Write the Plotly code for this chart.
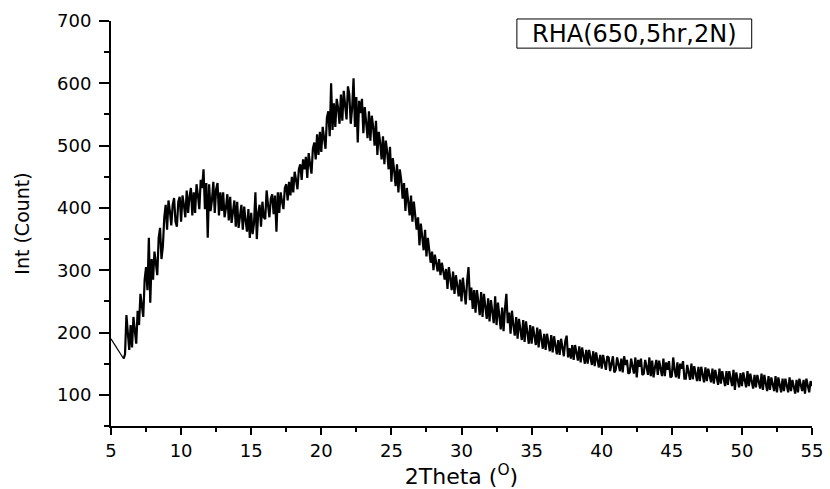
import plotly.graph_objects as go

# ---- data ----
head_theta = [5.0, 5.3, 5.6]
head_counts = [190, 180, 170]

scan_start = 5.9
scan_step = 0.1

counts_low = [
    158,
    165, 228, 190, 172, 212, 176, 225, 205, 182, 235,   # 6.0-6.9
    212, 262, 245, 225, 285, 305, 268, 352, 248, 318,   # 7
    285, 330, 312, 292, 352, 368, 318, 338, 385, 405,   # 8
    365, 412, 395, 372, 405, 416, 378, 370, 410, 418,   # 9
    378, 420, 405, 385, 428, 392, 418, 432, 388, 425,   # 10
    392, 438, 420, 398, 445, 432, 462, 398, 440, 352,   # 11
    438, 395, 412, 442, 392, 430, 440, 388, 425, 395,   # 12
    425, 385, 400, 422, 380, 418, 376, 395, 412, 370,   # 13
    410, 368, 388, 405, 365, 402, 380, 362, 398, 352,   # 14
    392, 358, 375, 425, 350, 392, 405, 370, 410, 385,   # 15
    382, 428, 405, 385, 415, 422, 390, 420, 362, 425,   # 16
    392, 425, 410, 398, 432, 438, 412, 442, 420, 450,   # 17
]
counts_peak = [
    425, 458, 445, 430, 462, 470, 445, 478, 462, 482,   # 18
    448, 488, 470, 455, 495, 505, 478, 518, 485, 522,   # 19
    490, 530, 512, 495, 545, 555, 515, 600, 525, 568,   # 20
    530, 575, 560, 535, 582, 540, 588, 565, 542, 595,   # 21
    582, 535, 560, 608, 530, 578, 505, 572, 552, 575,   # 22
    520, 562, 540, 512, 555, 508, 548, 530, 500, 540,   # 23
    485, 522, 505, 478, 515, 470, 508, 490, 462, 498,   # 24
    442, 480, 460, 435, 470, 425, 462, 445, 415, 440,   # 25
    395, 432, 410, 388, 420, 378, 410, 390, 365, 385,   # 26
    340, 375, 355, 332, 365, 322, 352, 335, 312, 330,   # 27
]
counts_decay = [
    300, 325, 312, 298, 318, 292, 312, 300, 285, 302,   # 28
    270, 305, 288, 268, 298, 262, 292, 275, 258, 285,   # 29
    250, 288, 268, 245, 282, 305, 252, 272, 238, 268,   # 30
    232, 268, 250, 228, 265, 225, 262, 245, 222, 255,   # 31
    218, 252, 235, 215, 258, 212, 248, 230, 205, 240,   # 32
    202, 238, 262, 215, 232, 198, 235, 212, 195, 225,   # 33
    190, 222, 205, 188, 220, 185, 218, 200, 182, 212,   # 34
    182, 210, 195, 180, 208, 176, 205, 190, 174, 198,   # 35
    172, 198, 185, 170, 196, 168, 194, 180, 165, 188,   # 36
    164, 190, 176, 162, 186, 195, 160, 175, 158, 180,   # 37
    156, 180, 168, 155, 178, 152, 176, 165, 150, 172,   # 38
    150, 172, 160, 148, 170, 146, 168, 155, 144, 164,   # 39
]
counts_tail = [
    142, 164, 152, 140, 162, 160, 138, 150, 162, 136,   # 40
    140, 160, 150, 138, 158, 136, 162, 148, 156, 134,   # 41
    136, 158, 146, 134, 160, 128, 156, 145, 158, 132,   # 42
    134, 156, 145, 132, 160, 130, 155, 128, 144, 156,   # 43
    132, 155, 142, 130, 158, 130, 152, 140, 154, 128,   # 44
    130, 160, 140, 128, 152, 126, 150, 142, 154, 126,   # 45
    126, 148, 136, 124, 150, 125, 146, 135, 122, 145,   # 46
    122, 145, 132, 120, 144, 122, 142, 130, 120, 142,   # 47
    118, 140, 128, 116, 142, 118, 138, 126, 114, 138,   # 48
    116, 138, 126, 114, 140, 108, 136, 124, 112, 135,   # 49
    114, 136, 124, 112, 138, 114, 134, 122, 110, 132,   # 50
    112, 132, 120, 110, 134, 108, 132, 118, 106, 130,   # 51
    108, 128, 118, 106, 130, 104, 128, 116, 104, 126,   # 52
    106, 126, 115, 104, 128, 106, 124, 113, 102, 124,   # 53
    104, 126, 114, 106, 124, 102, 126, 112, 104, 122,   # 54
    114,                                                 # 55
]

x_ticks = [5, 10, 15, 20, 25, 30, 35, 40, 45, 50, 55]
y_ticks = [100, 200, 300, 400, 500, 600, 700]
legend_label = "RHA(650,5hr,2N)"

scan_counts = counts_low + counts_peak + counts_decay + counts_tail
scan_theta = [round(scan_start + scan_step * i, 2) for i in range(len(scan_counts))]
theta = head_theta + scan_theta
counts = head_counts + scan_counts

FONT = "DejaVu Sans"

fig = go.Figure()
# thin leading segment (5.0-5.9) and dense scan trace
fig.add_trace(go.Scatter(x=theta[:4], y=counts[:4], mode="lines",
                         line=dict(color="black", width=1.2), showlegend=False))
fig.add_trace(go.Scatter(x=theta[3:], y=counts[3:], mode="lines",
                         line=dict(color="black", width=2.2), showlegend=False))

fig.update_layout(
    width=830, height=489,
    margin=dict(l=111, r=18, t=21, b=63),
    paper_bgcolor="white", plot_bgcolor="white",
    font=dict(family=FONT, color="black"),
    showlegend=False,
)
fig.update_xaxes(
    range=[5, 55], tickvals=x_ticks, ticktext=[str(v) for v in x_ticks],
    ticks="outside", ticklen=7, tickwidth=2, tickcolor="black",
    minor=dict(dtick=2.5, tick0=5, ticks="outside", ticklen=4, tickwidth=2, tickcolor="black", showgrid=False),
    showline=True, linewidth=2, linecolor="black", mirror=False,
    showgrid=False, zeroline=False, automargin=False,
    tickfont=dict(family=FONT, size=18, color="black"),
    title=dict(text="2Theta (<sup>O</sup>)", font=dict(family=FONT, size=22, color="black"), standoff=2),
)
fig.update_yaxes(
    range=[50, 700], tickvals=y_ticks, ticktext=[str(v) for v in y_ticks],
    ticks="outside", ticklen=10, tickwidth=2, tickcolor="black",
    minor=dict(dtick=50, tick0=0, ticks="outside", ticklen=5, tickwidth=2, tickcolor="black", showgrid=False),
    showline=True, linewidth=2, linecolor="black", mirror=False,
    showgrid=False, zeroline=False, automargin=False,
    ticklabelstandoff=4,
    tickfont=dict(family=FONT, size=18, color="black"),
    title=dict(text="Int (Count)", font=dict(family=FONT, size=19, color="black"), standoff=22),
)

# legend box
fig.add_shape(type="rect", xref="paper", yref="paper",
              x0=0.579, x1=0.914, y0=0.933, y1=1.005,
              line=dict(color="black", width=1), fillcolor="white", layer="above")
fig.add_annotation(xref="paper", yref="paper", x=0.7465, y=0.969,
                   text=legend_label, showarrow=False,
                   font=dict(family=FONT, size=24, color="black"),
                   xanchor="center", yanchor="middle")

fig.write_html("out.html", config={"displayModeBar": False},
               post_script="document.body.style.margin='0px';")
